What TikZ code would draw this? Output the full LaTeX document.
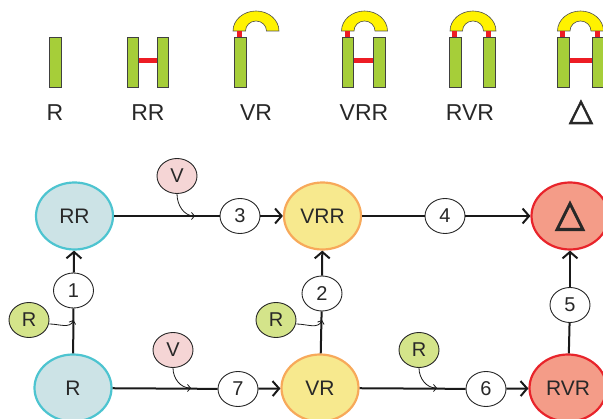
\documentclass[tikz,border=0pt]{standalone}
\usepackage{fontspec}
\setmainfont{Liberation Sans}
\newfontfamily\trifont{DejaVu Sans}[FakeBold=2.5]
\usetikzlibrary{shapes.geometric,arrows.meta}
\definecolor{txt}{HTML}{282828}
\definecolor{bargreen}{HTML}{A6CE39}
\definecolor{barred}{HTML}{ED1C24}
\definecolor{archyel}{HTML}{FFF200}
\definecolor{bluefill}{HTML}{CCE3E6}
\definecolor{blueline}{HTML}{4DC4D0}
\definecolor{yelfill}{HTML}{F7E98E}
\definecolor{yelline}{HTML}{F7A95A}
\definecolor{redfill}{HTML}{F49C88}
\definecolor{redline}{HTML}{E8242B}
\definecolor{vfill}{HTML}{F5D5D5}
\definecolor{rfill}{HTML}{D4E48A}
\tikzset{
  big/.style={ellipse, minimum width=77pt, minimum height=67pt, inner sep=0pt, line width=2.2pt, text=txt, font=\fontsize{21}{22}\selectfont},
  bluen/.style={big, draw=blueline, fill=bluefill},
  yeln/.style={big, draw=yelline, fill=yelfill},
  redn/.style={big, draw=redline, fill=redfill},
  small/.style={ellipse, minimum width=40pt, minimum height=35pt, inner sep=0pt, line width=0.9pt, draw=black!85, text=txt, font=\fontsize{20}{21}\selectfont},
  numn/.style={small, fill=white},
  vn/.style={small, fill=vfill},
  rn/.style={small, fill=rfill},
  edge/.style={line width=2pt, draw=black!90},
  arr/.style={edge, -{Straight Barb[length=6.5pt,width=15pt]}},
  sarr/.style={line width=0.8pt, draw=black!90, -{Straight Barb[length=3pt,width=7pt]}},
  barst/.style={fill=bargreen, draw=black!75, line width=0.6pt},
  archst/.style={fill=archyel, draw=black!70, line width=0.6pt},
  conn/.style={fill=barred},
  toplab/.style={text=txt, font=\fontsize{23}{24}\selectfont, inner sep=0pt}
}
\newcommand{\myarch}[1]{\path[archst] (#1-23,31) arc[start angle=180,end angle=0,x radius=23pt,y radius=20pt] -- (#1+10.5,31) arc[start angle=0,end angle=180,x radius=10.5pt,y radius=10pt] -- cycle;}
\begin{document}
\begin{tikzpicture}[x=1pt,y=-1pt]
\useasboundingbox (0,0) rectangle (603,419);
\clip (0,0) rectangle (603,419);
% ---- top row ----
% R
\path[barst] (49,37) rectangle (61,87);
% RR
\path[conn] (138,58.5) rectangle (157,63.5);
\path[barst] (127,37) rectangle (138.5,87);
\path[barst] (157,37) rectangle (168.5,87);
% VR
\myarch{256}
\path[conn] (237,31) rectangle (242,37);
\path[barst] (234,37) rectangle (246,87);
% VRR
\myarch{364.5}
\path[conn] (345,31) rectangle (350,37);
\path[conn] (353,58.5) rectangle (373,63.5);
\path[barst] (342,37) rectangle (353,87);
\path[barst] (373,37) rectangle (385,87);
% RVR
\myarch{473}
\path[conn] (452,31) rectangle (457,37);
\path[conn] (486,31) rectangle (491,37);
\path[barst] (449,37) rectangle (461,87);
\path[barst] (483,37) rectangle (495,87);
% Delta
\myarch{580.5}
\path[conn] (560,31) rectangle (565,37);
\path[conn] (595,31) rectangle (600,37);
\path[conn] (569,58.5) rectangle (592,63.5);
\path[barst] (557,37) rectangle (569,87);
\path[barst] (592,37) rectangle (604,87);
\node[toplab] (tR) at (55,113) {R};
\node[toplab] (tRR) at (148,113) {RR};
\node[toplab] (tVR) at (256,113) {VR};
\node[toplab] (tVRR) at (364,113) {VRR};
\node[toplab] (tRVR) at (470,113) {RVR};
\node[toplab] (tD) at (581,112) {\trifont\fontsize{31}{32}\selectfont △};
% ---- graph ----
\node[bluen] (RR) at (74.5,216) {RR};
\node[bluen] (R) at (73,388) {R};
\node[yeln] (VRR) at (322.5,216) {VRR};
\node[yeln] (VR) at (320,388) {VR};
\node[redn] (D) at (570,216) {\trifont\fontsize{38}{39}\selectfont △};
\node[redn] (RVR) at (568,388) {RVR};
\node[numn] (n1) at (73.5,290.5) {1};
\node[numn] (n2) at (322,293.5) {2};
\node[numn] (n3) at (240,216) {3};
\node[numn] (n4) at (445,216) {4};
\node[numn] (n5) at (570,305) {5};
\node[numn] (n6) at (486,389) {6};
\node[numn] (n7) at (238,389) {7};
\node[vn] (V1) at (177,176) {V};
\node[vn] (V2) at (173,350) {V};
\node[rn] (R1) at (29,320) {R};
\node[rn] (R2) at (276,320) {R};
\node[rn] (R3) at (419,350) {R};
% edges
\draw[edge] (RR) -- (n3);
\draw[arr] (n3) -- (VRR);
\draw[edge] (VRR) -- (n4);
\draw[arr] (n4) -- (D);
\draw[edge] (R) -- (n1);
\draw[arr] (n1) -- (RR);
\draw[edge] (VR) -- (n2);
\draw[arr] (n2) -- (VRR);
\draw[edge] (RVR) -- (n5);
\draw[arr] (n5) -- (D);
\draw[edge] (R) -- (n7);
\draw[arr] (n7) -- (VR);
\draw[edge] (VR) -- (n6);
\draw[arr] (n6) -- (RVR);
% small curved arrows
\coordinate (c1) at (195,216);
\coordinate (c2) at (191,388);
\coordinate (c3) at (73.5,320);
\coordinate (c4) at (322,320);
\coordinate (c5) at (437,388);
\draw[sarr] (V1.south) to[out=-90,in=180] (c1);
\draw[sarr] (V2.south) to[out=-90,in=180] (c2);
\draw[sarr] ([yshift=-4pt]R1.east) to[out=0,in=-110] (c3);
\draw[sarr] ([yshift=-4pt]R2.east) to[out=0,in=-110] (c4);
\draw[sarr] (R3.south) to[out=-90,in=180] (c5);
\end{tikzpicture}
\end{document}
